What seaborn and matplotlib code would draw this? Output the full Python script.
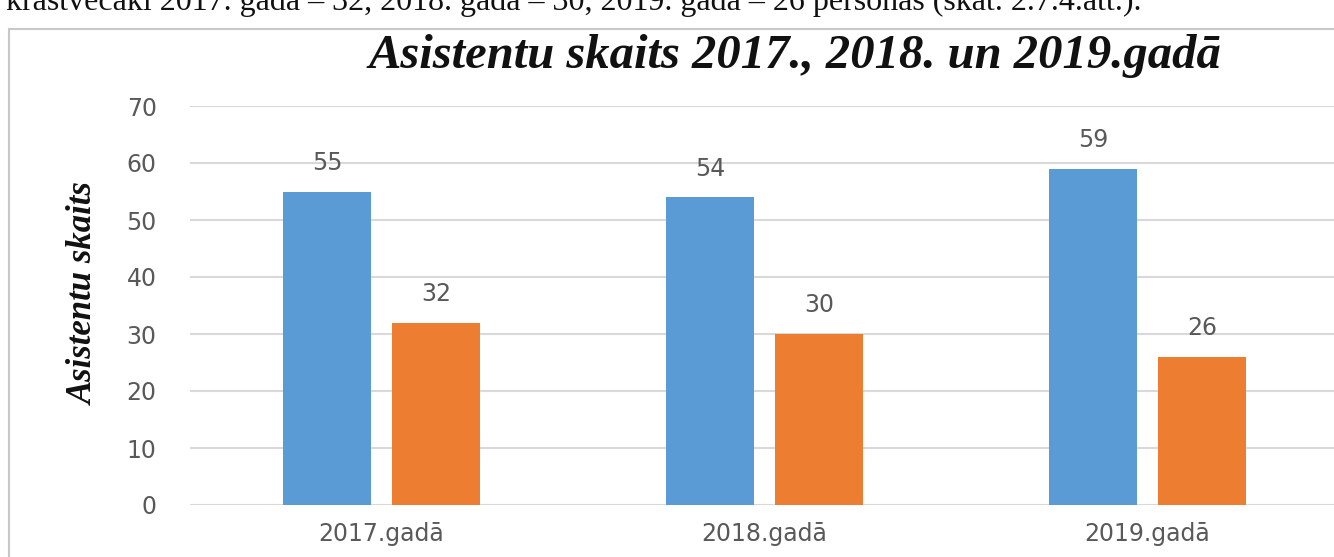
import matplotlib
matplotlib.use("Agg")
import matplotlib.pyplot as plt
import seaborn as sns
import pandas as pd
from matplotlib.patches import Rectangle

years = ["2017.gadā", "2018.gadā", "2019.gadā"]
series_names = ["Asistenti", "Krustvecāki"]
assistants = [55, 54, 59]
godparents = [32, 30, 26]
yticks = [0, 10, 20, 30, 40, 50, 60, 70]

df = pd.DataFrame({
    "year": years * 2,
    "series": [series_names[0]] * 3 + [series_names[1]] * 3,
    "value": assistants + godparents,
})

sns.set_theme(style="white")
plt.rcParams['font.family'] = ['DejaVu Sans']

W, H = 1334, 557
fig = plt.figure(figsize=(W / 100, H / 100), dpi=100)

# chart frame
fig.patches.append(Rectangle((9 / W, -0.05), 1.2, 1 - 29 / H + 0.05, transform=fig.transFigure,
                             fill=False, edgecolor="#C8C8C8", linewidth=1.5, zorder=0))

# text line above the chart (cropped at the top in the source)
fig.text(6 / W, 1 - 10 / H,
         "krastvecāki 2017. gadā – 32, 2018. gadā – 30, 2019. gadā – 26 personas (skat. 2.7.4.att.).",
         family="Liberation Serif", fontsize=23, va="baseline", ha="left", color="#111111")

ax = fig.add_axes([190 / W, 1 - 505 / H, 1149 / W, (505 - 106) / H])
sns.barplot(data=df, x="year", y="value", hue="series",
            palette=["#5B9BD5", "#ED7D31"], saturation=1, width=0.57, gap=0.2,
            linewidth=0, edgecolor="none",
            ax=ax, legend=False, zorder=3)

ax.set_ylim(0, 70)
ax.set_xlim(-0.5, 2.5)
ax.set_yticks(yticks)
ax.yaxis.grid(True, color="#D9D9D9", linewidth=1.5, zorder=0)
ax.set_axisbelow(True)
for s in ax.spines.values():
    s.set_visible(False)
ax.tick_params(axis="y", length=0, pad=24, labelsize=17, labelcolor="#595959")
ax.tick_params(axis="x", length=0, pad=12, labelsize=17, labelcolor="#595959")
ax.set_xlabel("")
ax.set_ylabel("")

for cont in ax.containers:
    ax.bar_label(cont, padding=12, fontsize=17, color="#595959")

fig.text(795 / W, 1 - 56 / H, "Asistentu skaits 2017., 2018. un 2019.gadā",
         family="Liberation Serif", fontweight="bold", fontstyle="italic",
         fontsize=35, ha="center", va="center", color="#111111")
fig.text(84 / W, 1 - 294 / H, "Asistentu skaits",
         family="Liberation Serif", fontweight="bold", fontstyle="italic",
         fontsize=25, ha="center", va="center", rotation=90, color="#111111")

fig.savefig("out.png", dpi=100)
